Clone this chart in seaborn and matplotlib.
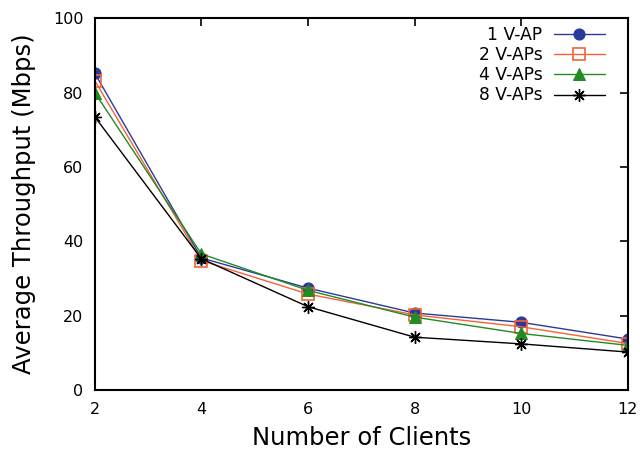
import matplotlib
matplotlib.use("Agg")
import matplotlib.pyplot as plt
import seaborn as sns
import pandas as pd

clients = [2, 4, 6, 8, 10, 12]
v1 = [85.2, 35.5, 27.4, 20.7, 18.2, 13.7]
v2 = [83.2, 34.8, 25.8, 20.2, 17.0, 12.5]
v4 = [80.0, 36.6, 26.8, 19.6, 15.2, 12.0]
v8 = [73.5, 35.3, 22.4, 14.2, 12.4, 10.2]
labels = ["1 V-AP", "2 V-APs", "4 V-APs", "8 V-APs"]

sns.set_theme(style="white")
plt.rcParams['font.family'] = ['DejaVu Sans']
plt.rcParams['text.color'] = 'black'
plt.rcParams['axes.labelcolor'] = 'black'

rows = []
for lab, vals in zip(labels, [v1, v2, v4, v8]):
    for c, v in zip(clients, vals):
        rows.append({"Clients": c, "Throughput": v, "Series": lab})
df = pd.DataFrame(rows)

fig = plt.figure(figsize=(6.4, 4.54), dpi=100)
ax = fig.add_axes([0.148, 0.141, 0.833, 0.819])

colors = {"1 V-AP": "#2b3a99", "2 V-APs": "#f4623a", "4 V-APs": "#228b22", "8 V-APs": "#000000"}
mstyle = {
    "1 V-AP": dict(marker="o", markersize=8, markerfacecolor="#2b3a99", markeredgecolor="#2b3a99"),
    "2 V-APs": dict(marker="s", markersize=8, markerfacecolor="none", markeredgecolor="#f4623a", markeredgewidth=1.2),
    "4 V-APs": dict(marker="^", markersize=8, markerfacecolor="#228b22", markeredgecolor="#228b22"),
    "8 V-APs": dict(marker=(8, 2, 0), markersize=9, markeredgecolor="#000000", markeredgewidth=1.0),
}
for lab in labels:
    sub = df[df["Series"] == lab]
    sns.lineplot(data=sub, x="Clients", y="Throughput", ax=ax, color=colors[lab],
                 linewidth=1.0, label=lab, **mstyle[lab])

ax.set_xlim(2, 12)
ax.set_ylim(0, 100)
ax.set_xticks(clients)
ax.set_yticks([0, 20, 40, 60, 80, 100])
ax.tick_params(direction="in", length=6, width=1.2, top=True, right=True, labelsize=11.5,
               colors="black", labelcolor="black")
ax.tick_params(axis="x", pad=9)
ax.tick_params(axis="y", pad=8)
for s in ax.spines.values():
    s.set_color("black")
    s.set_linewidth(1.5)
ax.set_xlabel("Number of Clients", fontsize=17.5, labelpad=6)
ax.set_ylabel("Average Throughput (Mbps)", fontsize=17.5, labelpad=12)
leg = ax.legend(loc="upper right", bbox_to_anchor=(0.957, 0.978), markerfirst=False,
                frameon=False, fontsize=12.3, handlelength=3.0, labelspacing=0.12,
                borderaxespad=0.0, borderpad=0.0, handletextpad=0.65)
for t in leg.get_texts():
    t.set_ha("right")
    t.set_color("black")
ax.grid(False)
fig.savefig("out.png", dpi=100)
